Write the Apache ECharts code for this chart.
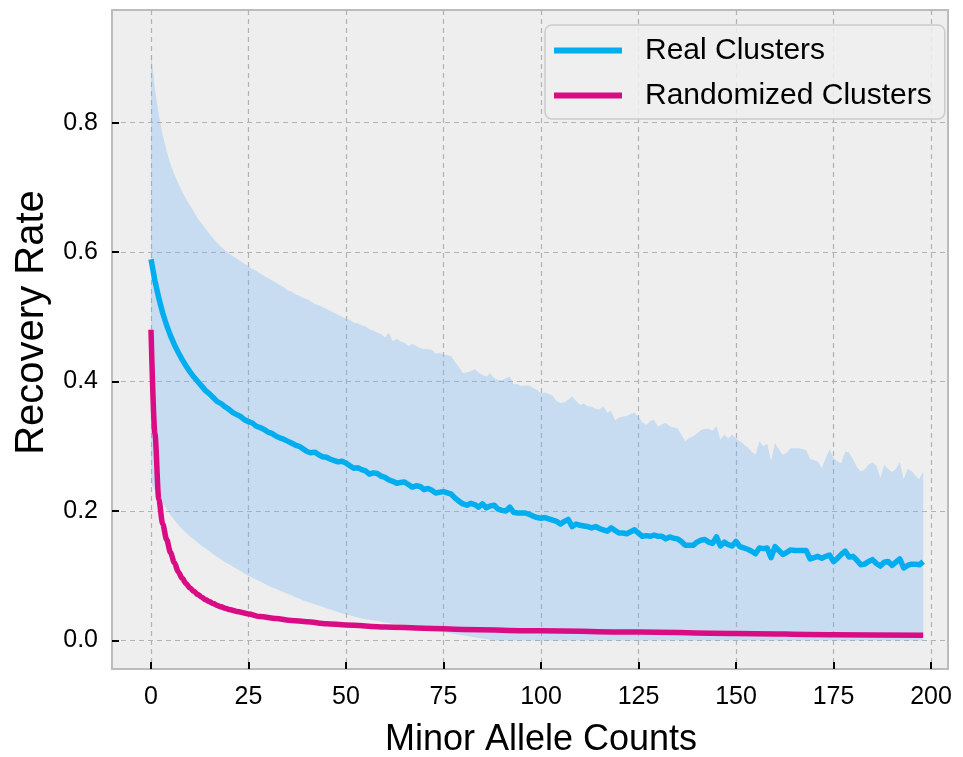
<!DOCTYPE html>
<html>
<head>
<meta charset="utf-8">
<title>Recovery Rate vs Minor Allele Counts</title>
<script src="https://cdn.jsdelivr.net/npm/echarts@6/dist/echarts.min.js"></script>
<style>
  html, body { margin: 0; padding: 0; background: #fff; }
  #chart { width: 963px; height: 757px; }
</style>
</head>
<body>
<div id="chart"></div>
<script>
// Real clusters: mean recovery rate per minor allele count (0..198) and band edges
var realMean = [
  .589,.556,.529,.506,.487,.471,.457,.445,.434,.424,
  .415,.407,.400,.393,.386,.381,.375,.369,.366,.361,
  .357,.352,.349,.346,.341,.338,.336,.331,.329,.326,
  .322,.320,.316,.313,.311,.308,.305,.302,.300,.296,
  .292,.290,.291,.287,.284,.283,.280,.278,.276,.277,
  .274,.270,.266,.267,.264,.262,.257,.259,.258,.254,
  .252,.248,.246,.243,.244,.245,.241,.237,.239,.238,
  .233,.235,.232,.228,.229,.230,.228,.226,.220,.215,
  .211,.209,.212,.210,.206,.211,.205,.208,.209,.203,
  .201,.200,.206,.198,.197,.197,.197,.195,.192,.190,
  .189,.190,.188,.186,.184,.180,.184,.187,.176,.180,
  .178,.177,.176,.174,.176,.173,.171,.169,.174,.170,
  .166,.166,.165,.168,.171,.166,.161,.162,.161,.163,
  .161,.161,.157,.160,.158,.157,.153,.147,.147,.147,
  .152,.155,.156,.152,.150,.160,.146,.152,.148,.146,
  .153,.145,.143,.141,.138,.134,.143,.142,.143,.128,
  .145,.139,.133,.136,.140,.139,.139,.139,.139,.126,
  .128,.130,.127,.130,.132,.122,.127,.133,.138,.129,
  .130,.124,.117,.118,.122,.125,.119,.115,.121,.122,
  .116,.121,.126,.112,.116,.118,.118,.117,.122
];
var realUpper = [
  .908,.852,.812,.781,.756,.736,.720,.706,.693,.682,
  .672,.662,.652,.644,.636,.628,.621,.614,.608,.603,
  .598,.594,.590,.586,.582,.578,.574,.571,.567,.563,
  .560,.556,.553,.549,.546,.541,.539,.535,.533,.529,
  .527,.524,.520,.518,.515,.512,.509,.506,.503,.500,
  .497,.495,.491,.490,.487,.485,.481,.479,.476,.473,
  .468,.476,.462,.466,.462,.460,.455,.458,.455,.452,
  .450,.450,.449,.443,.444,.442,.441,.439,.430,.422,
  .413,.414,.416,.419,.414,.410,.408,.413,.405,.403,
  .402,.405,.408,.396,.396,.393,.394,.394,.390,.387,
  .382,.383,.381,.378,.370,.367,.368,.372,.377,.370,
  .364,.366,.362,.361,.358,.357,.362,.352,.355,.340,
  .344,.346,.347,.350,.352,.345,.337,.333,.339,.341,
  .330,.334,.336,.331,.329,.328,.318,.308,.313,.315,
  .320,.325,.327,.327,.324,.331,.310,.318,.312,.318,
  .312,.308,.303,.298,.292,.287,.308,.300,.304,.277,
  .305,.295,.287,.290,.297,.297,.297,.296,.294,.280,
  .279,.276,.266,.282,.295,.282,.277,.274,.292,.290,
  .280,.268,.261,.264,.272,.275,.270,.251,.271,.265,
  .260,.265,.276,.249,.265,.262,.255,.249,.261
];
var realLower = [
  .244,.232,.222,.212,.203,.194,.186,.179,.172,.166,
  .161,.156,.151,.146,.142,.138,.133,.129,.125,.121,
  .118,.114,.111,.107,.103,.100,.097,.094,.091,.088,
  .085,.082,.080,.077,.075,.072,.070,.067,.065,.062,
  .060,.058,.056,.054,.052,.050,.048,.046,.044,.042,
  .040,.039,.037,.036,.034,.033,.032,.031,.030,.029,
  .028,.027,.026,.025,.024,.023,.022,.021,.020,.019,
  .018,.017,.016,.015,.014,.013,.012,.011,.010,.009,
  .008,.007,.006,.005,.004,.003,.002,.001,0,0,
  0,0,0,0,0,0,0,0,0,0,
  0,0,0,0,0,0,0,0,0,0,
  0,0,0,0,0,0,0,0,0,0,
  0,0,0,0,0,0,0,0,0,0,
  0,0,0,0,0,0,0,0,0,0,
  0,0,0,0,0,0,0,0,0,0,
  0,0,0,0,0,0,0,0,0,0,
  0,0,0,0,0,0,0,0,0,0,
  0,0,0,0,0,0,0,0,0,0,
  0,0,0,0,0,0,0,0,0,0,
  0,0,0,0,0,0,0,0,0
];

// Randomized clusters: smooth curve, read at these counts
var randX = [0,1,2,3,4,5,6,7,8,9,10,11,12,13,14,15,16,17,18,19,20,22,25,28,32,36,40,45,50,60,70,80,100,125,150,175,198];
var randY = [.480,.320,.218,.180,.156,.136,.120,.106,.096,.088,.081,.076,.071,.067,.063,.060,.057,.054,.052,.050,.048,.045,.041,.037,.034,.031,.029,.026,.024,.021,.019,.017,.015,.013,.011,.009,.008];

var xTicks = [0, 25, 50, 75, 100, 125, 150, 175, 200];
var yTicks = [0, 0.2, 0.4, 0.6, 0.8];

var FONT = 'Liberation Sans, Arial, Helvetica, sans-serif';

var meanPts = [], randPts = [];
for (var i = 0; i < realMean.length; i++) {
    meanPts.push([i, realMean[i]]);
}
for (var j = 0; j < randX.length; j++) {
    randPts.push([randX[j], randY[j]]);
}

var myChart = echarts.init(document.getElementById('chart'), null, {renderer: 'canvas'});

var dashed = {color: '#b2b2b2', width: 1.2, type: [5, 4]};

// shaded band between realLower and realUpper, one polygon
function renderBand(params, api) {
    var pts = [];
    for (var k = 0; k < realUpper.length; k++) {
        pts.push(api.coord([k, realUpper[k]]));
    }
    for (var m = realLower.length - 1; m >= 0; m--) {
        pts.push(api.coord([m, realLower[m]]));
    }
    return {
        type: 'polygon',
        shape: {points: pts},
        style: {fill: 'rgba(110,180,245,0.3)'}
    };
}

option = {
    animation: false,
    backgroundColor: '#ffffff',
    textStyle: {fontFamily: FONT},
    grid: [
        // frame + y grid lines
        {left: 112, right: 15, top: 10, bottom: 88, show: true, outerBoundsMode: 'none',
         backgroundColor: '#eeeeee', borderColor: '#bcbcbc', borderWidth: 2},
        // data area: x = 0 at 151px, x = 200 at 931px
        {left: 151, right: 32, top: 10, bottom: 88, outerBoundsMode: 'none'}
    ],
    xAxis: [
        {gridIndex: 0, type: 'value', min: -10, max: 204.4, show: false},
        {
            gridIndex: 1, type: 'value', min: 0, max: 200, interval: 25,
            axisLine: {show: false, onZero: false},
            axisTick: {show: true, inside: true, length: 7, lineStyle: {color: '#000', width: 2}},
            axisLabel: {color: '#000', fontSize: 25, margin: 16, fontFamily: FONT},
            splitLine: {show: true, lineStyle: dashed},
            name: 'Minor Allele Counts', nameLocation: 'middle', nameGap: 53,
            nameTextStyle: {color: '#000', fontSize: 36, fontFamily: FONT}
        }
    ],
    yAxis: [
        {
            gridIndex: 0, type: 'value', min: -0.044, max: 0.974,
            axisLine: {show: false, onZero: false},
            axisTick: {show: true, inside: true, length: 7, customValues: yTicks,
                       lineStyle: {color: '#000', width: 2}},
            axisLabel: {color: '#000', fontSize: 25, margin: 14, fontFamily: FONT,
                        customValues: yTicks,
                        formatter: function (v) { return v.toFixed(1); }},
            splitLine: {show: true, lineStyle: dashed},
            name: 'Recovery Rate', nameLocation: 'middle', nameGap: 60,
            nameTextStyle: {color: '#000', fontSize: 40, fontFamily: FONT,
                            padding: [0, 0, 0, 34]}
        },
        {gridIndex: 1, type: 'value', min: -0.044, max: 0.974, show: false,
         axisLine: {onZero: false}}
    ],
    legend: {
        data: ['Real Clusters', 'Randomized Clusters'],
        orient: 'vertical',
        left: 545, top: 25,
        icon: 'rect',
        itemWidth: 68, itemHeight: 6, itemGap: 14,
        padding: [10, 13, 8, 9],
        backgroundColor: 'rgba(238,238,238,0.85)',
        borderColor: '#cccccc', borderWidth: 1.5, borderRadius: 7,
        textStyle: {color: '#000', fontSize: 30, fontFamily: FONT, lineHeight: 31,
                    padding: [0, 0, 0, 18]}
    },
    series: [
        {
            name: 'band', type: 'custom', xAxisIndex: 1, yAxisIndex: 1,
            data: [[0, 0]], renderItem: renderBand, silent: true, z: 1
        },
        {
            name: 'Real Clusters', type: 'line', xAxisIndex: 1, yAxisIndex: 1,
            data: meanPts, symbol: 'none', color: '#00aeef', z: 3,
            lineStyle: {width: 5.5, color: '#00aeef', join: 'round'}
        },
        {
            name: 'Randomized Clusters', type: 'line', xAxisIndex: 1, yAxisIndex: 1,
            data: randPts, symbol: 'none', color: '#da0c84', z: 4,
            smooth: 0.3, smoothMonotone: 'x',
            lineStyle: {width: 5.5, color: '#da0c84', join: 'round'}
        }
    ]
};

myChart.setOption(option);
</script>
</body>
</html>
